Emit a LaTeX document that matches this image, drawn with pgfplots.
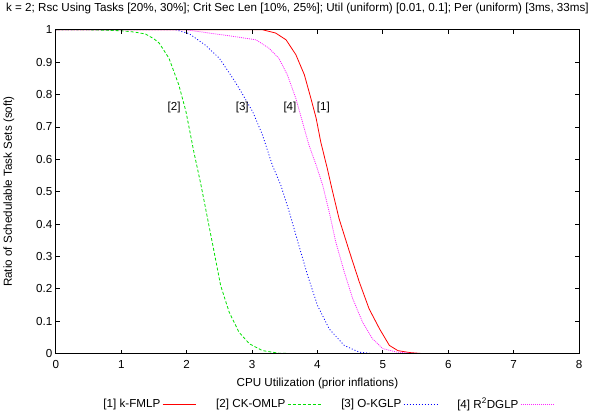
\documentclass[border=0pt]{standalone}
\usepackage{fontspec}
\setmainfont{Liberation Sans}
\usepackage{pgfplots}
\pgfplotsset{compat=1.18}
\definecolor{gpgreen}{RGB}{0,225,0}
\definecolor{gpmag}{RGB}{255,40,255}
\begin{document}
\begin{tikzpicture}[font=\fontsize{11.6bp}{14bp}\selectfont]
\begin{axis}[
  scale only axis,
  width=522bp, height=323bp,
  xmin=0, xmax=8, ymin=0, ymax=1,
  xtick={0,1,...,8},
  ytick={0,0.1,0.2,0.3,0.4,0.5,0.6,0.7,0.8,0.9,1},
  yticklabels={0,0.1,0.2,0.3,0.4,0.5,0.6,0.7,0.8,0.9,1},
  /pgf/number format/assume math mode=true,
  tick align=inside,
  major tick length=4bp,
  tick style={black, line width=0.8pt},
  axis line style={black, line width=1pt},
  axis on top,
  xticklabel style={yshift=-3bp},
  xlabel={CPU Utilization (prior inflations)},
  ylabel={Ratio of Schedulable Task Sets (soft)},
  xlabel style={at={(axis description cs:0.5,0)}, anchor=center, yshift=-30bp},
  ylabel style={at={(axis description cs:-0.09,0.5)}, anchor=center},
  title={k = 2; Rsc Using Tasks [20\%, 30\%]; Crit Sec Len [10\%, 25\%]; Util (uniform) [0.01, 0.1]; Per (uniform) [3ms, 33ms]},
  title style={at={(axis description cs:0.5,1)}, anchor=center, xshift=-20bp, yshift=15bp},
  legend plot pos=right,
  legend columns=4,
  legend style={at={(axis description cs:0.52,-0.125)}, anchor=north, draw=none, fill=none,
    /tikz/every even column/.append style={column sep=18bp}},
  legend image code/.code={\draw[#1] (0bp,0bp) -- (33bp,0bp);},
]
\addplot[red, line width=0.8pt] coordinates {
(0,1) (3.16,1) (3.36,0.99) (3.52,0.969) (3.67,0.923) (3.80,0.861) (3.90,0.788) (3.98,0.727) (4.05,0.654) (4.15,0.572) (4.22,0.51) (4.33,0.417) (4.49,0.314) (4.64,0.221) (4.79,0.138) (4.95,0.076) (5.10,0.025) (5.23,0.009) (5.41,0.003) (5.6,0) (8,0)
};
\addlegendentry{[1] k-FMLP}
\addplot[gpgreen, line width=0.8pt, dash pattern=on 3pt off 2pt] coordinates {
(0,1) (0.5,1) (1.0,0.997) (1.2,0.993) (1.37,0.987) (1.5,0.972) (1.58,0.959) (1.73,0.912) (1.88,0.83) (1.99,0.747) (2.11,0.623) (2.22,0.52) (2.32,0.417) (2.42,0.314) (2.52,0.21) (2.65,0.128) (2.80,0.066) (2.96,0.03) (3.16,0.009) (3.41,0.001) (3.6,0) (8,0)
};
\addlegendentry{[2] CK-OMLP}
\addplot[blue, line width=0.8pt, dash pattern=on 1pt off 2pt] coordinates {
(0,1) (1.83,1) (2.04,0.988) (2.29,0.952) (2.50,0.912) (2.70,0.852) (2.80,0.82) (3.01,0.747) (3.16,0.675) (3.31,0.582) (3.44,0.52) (3.57,0.437) (3.70,0.345) (3.85,0.241) (4.00,0.149) (4.18,0.076) (4.41,0.025) (4.64,0.004) (4.85,0) (8,0)
};
\addlegendentry{[3] O-KGLP}
\addplot[gpmag, line width=0.8pt, dash pattern=on 1pt off 1pt] coordinates {
(0,1) (1.99,1) (2.34,0.99) (2.70,0.98) (3.06,0.969) (3.26,0.943) (3.41,0.912) (3.54,0.861) (3.67,0.788) (3.77,0.716) (3.87,0.644) (3.98,0.582) (4.08,0.52) (4.18,0.437) (4.28,0.345) (4.41,0.252) (4.54,0.169) (4.69,0.097) (4.84,0.046) (5.00,0.015) (5.2,0.005) (5.41,0.001) (5.6,0) (8,0)
};
\addlegendentry{[4] R\textsuperscript{2}DGLP}
\node at (axis cs:1.81,0.76) {[2]};
\node at (axis cs:2.85,0.76) {[3]};
\node at (axis cs:3.58,0.76) {[4]};
\node at (axis cs:4.09,0.76) {[1]};
\end{axis}
\end{tikzpicture}
\end{document}
